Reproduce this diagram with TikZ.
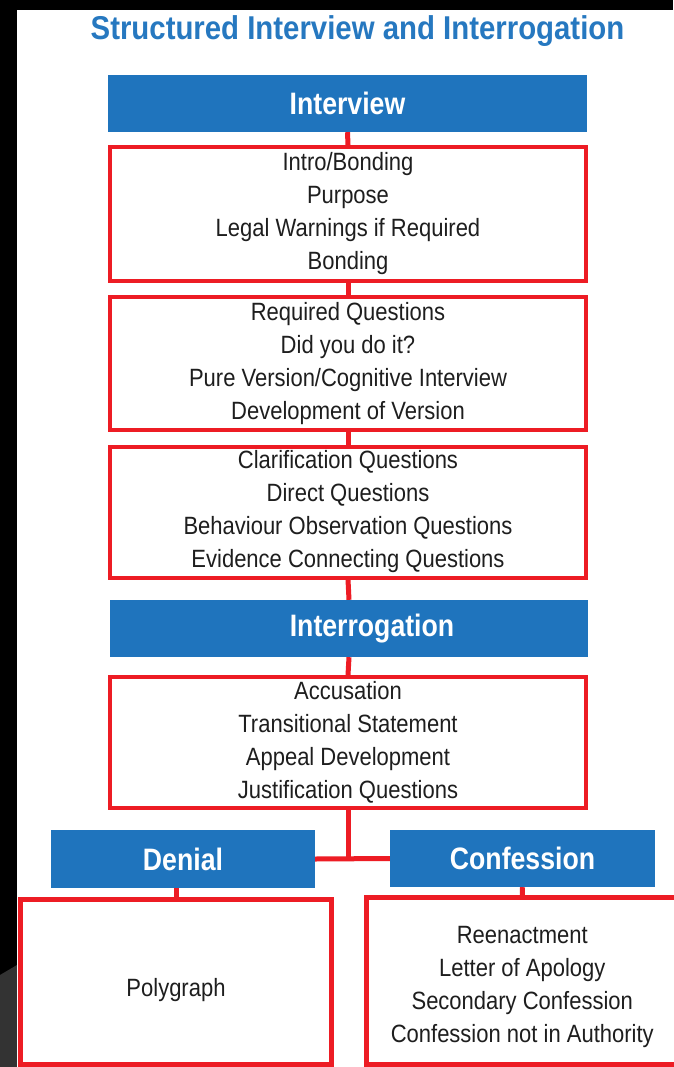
\documentclass[tikz,border=0pt]{standalone}
\usepackage{fontspec}
\setmainfont{Liberation Sans}
\newfontfamily\titlefont[FakeStretch=0.89]{Liberation Sans}
\newfontfamily\headfont[FakeStretch=0.86]{Liberation Sans}
\newfontfamily\bodyfont[FakeStretch=0.88]{Liberation Sans}
\definecolor{boxblue}{RGB}{31,116,189}
\definecolor{titleblue}{RGB}{38,120,192}
\definecolor{linered}{RGB}{237,28,36}
\definecolor{textgray}{RGB}{30,30,30}

\begin{document}
\begin{tikzpicture}[x=1pt,y=-1pt,
    head/.style={fill=boxblue, text=white, font=\headfont\bfseries\fontsize{31}{37}\selectfont, minimum height=57pt, inner sep=0pt},
    list/.style={draw=linered, line width=4pt, text=textgray, align=center, font=\bodyfont\fontsize{25}{33}\selectfont, minimum width=476pt, inner sep=0pt},
    link/.style={draw=linered, line width=5pt}]
    \useasboundingbox (0,0) rectangle (673,1067);
    \fill[black] (0,0) rectangle (673,1067);
    \fill[black!80] (0,975) -- (17,965) -- (17,1067) -- (0,1067) -- cycle;
    \fill[white] (17,10) rectangle (673,1067);

    \node[anchor=base, text=titleblue, font=\titlefont\bfseries\fontsize{33}{38}\selectfont] (TT) at (357.5,40) {Structured Interview and Interrogation};

    \node[head, minimum width=479pt] (IV) at (347.5,103.5) {Interview};
    \node[list, minimum height=134pt] (BA) at (348,214) {Intro/Bonding\\Purpose\\Legal Warnings if Required\\Bonding};
    \node[list, minimum height=133pt] (BB) at (348,363.5) {Required Questions\\Did you do it?\\Pure Version/Cognitive Interview\\Development of Version};
    \node[list, minimum height=131pt] (BC) at (348,512) {Clarification Questions\\Direct Questions\\Behaviour Observation Questions\\Evidence Connecting Questions};
    \node[head, minimum width=478pt] (IR) at (349,628.5) {\hspace*{46pt}Interrogation};
    \node[list, minimum height=131pt] (BD) at (348,742.5) {Accusation\\Transitional Statement\\Appeal Development\\Justification Questions};

    \node[head, minimum width=264pt, minimum height=58pt] (DN) at (183,859) {Denial};
    \node[head, minimum width=265pt] (CF) at (522.5,858.5) {Confession};
    \node[list, line width=5pt, minimum width=311pt, minimum height=165pt,
        label={[text=textgray, font=\bodyfont\fontsize{25}{33}\selectfont, yshift=-8pt]center:Polygraph}] (PG) at (176,982) {};
    \node[list, line width=5pt, minimum width=311.5pt, minimum height=167pt,
        label={[text=textgray, align=center, font=\bodyfont\fontsize{25}{33}\selectfont, yshift=-5.5pt]center:Reenactment\\Letter of Apology\\Secondary Confession\\Confession not in Authority}] (CB) at (522.25,981) {};

    \draw[link] (IV.south) -- (BA.north);
    \draw[link] (BA.south) -- (BB.north);
    \draw[link] (BB.south) -- (BC.north);
    \draw[link] (BC.south) -- (IR.north);
    \draw[link] (IR.south) -- (BD.north);
    \draw[link] (BD.south) -- (BD.south |- DN.east);
    \draw[link] (DN.east) -- (CF.west);
    \draw[link] (PG.north) -- (PG.north |- DN.south);
    \draw[link] (CF.south) -- (CB.north);
\end{tikzpicture}
\end{document}
